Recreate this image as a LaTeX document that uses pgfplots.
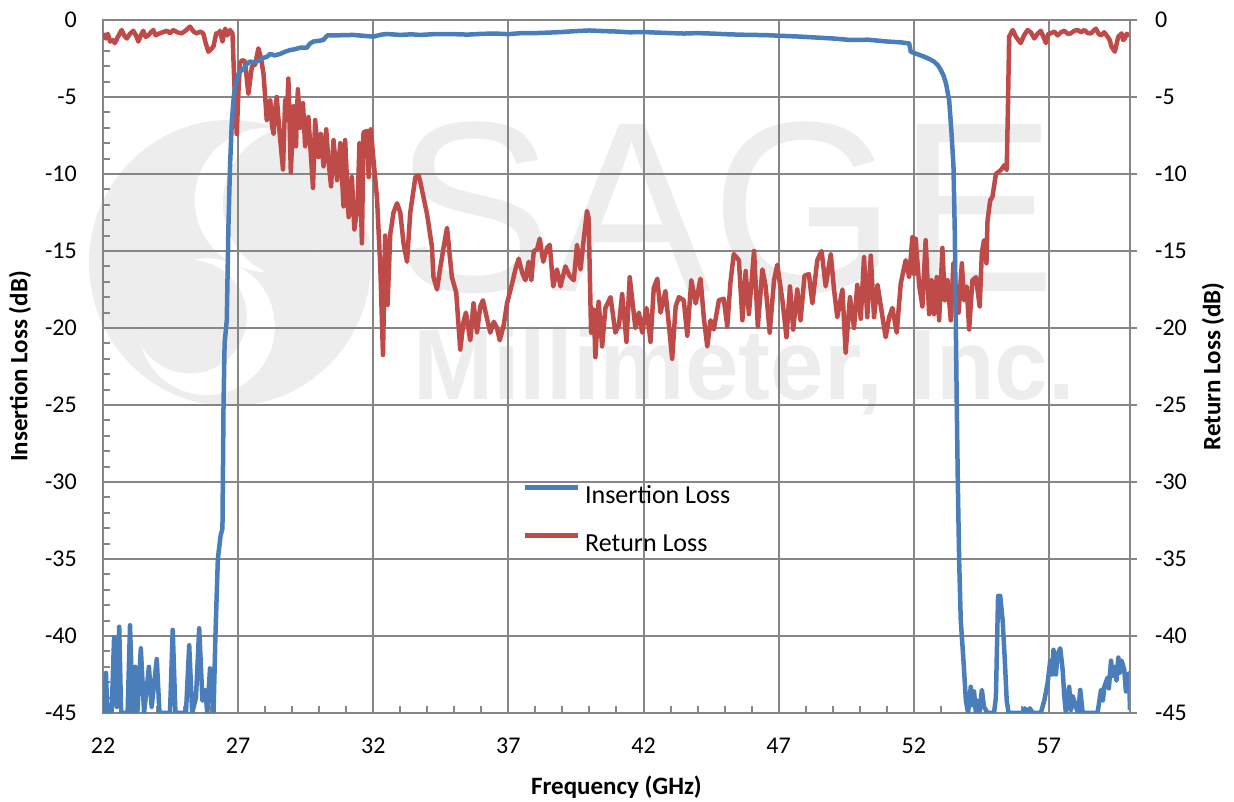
\documentclass[border=0pt]{standalone}
\usepackage{pgfplots}
\pgfplotsset{compat=1.18}
\usepackage{fontspec}
\setmainfont{Carlito}
\newfontfamily\wmfont{Liberation Sans}
\definecolor{ilblue}{HTML}{4A7EBB}
\definecolor{rlred}{HTML}{BE4B48}
\definecolor{gridgray}{HTML}{868686}
\definecolor{wmgray}{HTML}{EDEDED}

\begin{document}
\begin{tikzpicture}[x=1pt,y=1pt]
% page is 1234 x 802, plot area lower left at (0,0)
\path (-103,-89) rectangle (1131,713);
% faint company watermark behind the grid
\fill[wmgray] (127,450) ellipse (141 and 143);
\begin{scope}
  \clip (163.7,513) circle (72);
  \fill[white] (163.7,513) circle (72);
  \fill[wmgray] (197,510) circle (77);
\end{scope}
\begin{scope}
  \clip (103.7,386.3) circle (68.3);
  \fill[white] (103.7,386.3) circle (68.3);
  \fill[wmgray] (87,396.3) circle (56.7);
\end{scope}
\node[anchor=base, inner sep=0pt, text=wmgray, xscale=0.98,
  font=\wmfont\fontsize{243}{243}\selectfont] at (622,421) {SAGE};
\node[anchor=base, inner sep=0pt, text=wmgray, xscale=0.96,
  font=\wmfont\bfseries\fontsize{100}{100}\selectfont] at (641,313) {Millimeter, Inc.};

\begin{axis}[
    at={(0,0)}, anchor=south west
  , scale only axis, width=1027pt, height=693pt
  , xmin=22, xmax=60, ymin=-45, ymax=0
  , xtick={22,27,...,57}, ytick={-45,-40,...,0}
  , minor x tick num=4, minor y tick num=4
  , xtick pos=bottom, ytick pos=left
  , tick align=inside, major tick length=0pt, minor tick length=7pt
  , minor tick style={gridgray, line width=2pt}
  , axis line style={gridgray, line width=2pt}
  , grid=major, major grid style={gridgray, line width=2pt}
  , /pgf/number format/assume math mode=true
  , ticklabel style={font=\fontsize{24}{24}\selectfont, inner sep=0pt}
  , yticklabel style={xshift=-26pt}
  , xticklabel style={yshift=-25pt}
  , xlabel={Frequency (GHz)}, ylabel={Insertion Loss (dB)}
  , label style={font=\bfseries\fontsize{25}{25}\selectfont}
  , xlabel style={at={(axis description cs:0.5,0)}, anchor=center, yshift=-74pt}
  , ylabel style={at={(axis description cs:0,0.5)}, anchor=center, yshift=83pt}
  , legend style={at={(axis cs:37.52,-30.2)}, anchor=north west, draw=none, fill=none,
      inner sep=0pt, column sep=5pt, row sep=28pt,
      font=\fontsize{26}{26}\selectfont, nodes={inner sep=0pt}}
  , legend cell align=left
  , legend image code/.code={\draw[#1] (0pt,8pt) -- (53pt,8pt);}
  , reverse legend
  , every axis plot/.append style={line width=4.5pt, line join=round}
  ]
\addplot[rlred] coordinates {
(22.01,-0.87) (22.10,-1.2) (22.18,-0.9) (22.26,-1.4) (22.35,-1.3) (22.44,-1.5)
(22.55,-1.1) (22.69,-0.65) (22.78,-1.0) (22.88,-1.2) (23.00,-0.9) (23.12,-0.7)
(23.22,-1.0) (23.31,-1.4) (23.40,-1.0) (23.49,-0.7) (23.58,-1.1) (23.68,-1.0)
(23.77,-0.8) (23.86,-0.65) (23.95,-1.0) (24.05,-0.9) (24.20,-0.8) (24.36,-0.7)
(24.48,-0.85) (24.60,-0.65) (24.75,-0.8) (24.91,-0.87) (25.05,-0.7) (25.22,-0.43)
(25.35,-0.75) (25.47,-0.87) (25.60,-0.75) (25.71,-0.87) (25.80,-1.5) (25.90,-2.06)
(26.00,-1.9) (26.09,-1.7) (26.15,-1.2) (26.19,-0.87) (26.26,-0.9) (26.33,-0.7)
(26.42,-1.4) (26.52,-0.56) (26.60,-1.0) (26.70,-0.65) (26.79,-0.87) (26.86,-4.1)
(26.95,-7.4) (27.01,-4.7) (27.07,-2.8) (27.15,-2.6) (27.26,-2.7) (27.32,-3.8)
(27.38,-4.8) (27.51,-3.0) (27.63,-2.9) (27.75,-1.84) (27.85,-2.5) (27.94,-3.5)
(28.00,-5.0) (28.06,-6.5) (28.12,-5.5) (28.19,-5.2) (28.25,-6.8) (28.31,-7.4)
(28.37,-5.8) (28.43,-5.0) (28.50,-6.6) (28.56,-7.8) (28.66,-9.7) (28.74,-5.2)
(28.80,-6.5) (28.86,-3.8) (28.95,-9.9) (29.05,-5.6) (29.14,-8.2) (29.21,-4.5)
(29.30,-7.0) (29.40,-5.4) (29.48,-8.2) (29.60,-6.3) (29.69,-8.7) (29.77,-10.9)
(29.85,-6.5) (29.97,-8.9) (30.06,-7.4) (30.16,-9.5) (30.26,-7.1) (30.34,-9.1)
(30.44,-10.8) (30.53,-7.8) (30.66,-10.4) (30.78,-8.0) (30.90,-12.1) (30.96,-7.8)
(31.09,-12.8) (31.21,-10.2) (31.30,-13.6) (31.42,-12.1) (31.49,-8.0) (31.58,-14.5)
(31.64,-7.3) (31.77,-7.2) (31.83,-10.2) (31.91,-7.1) (32.01,-9.1) (32.14,-11.6)
(32.26,-16.0) (32.36,-21.75) (32.44,-14.0) (32.53,-18.5) (32.63,-13.9) (32.75,-12.5)
(32.88,-11.9) (33.00,-12.5) (33.12,-14.5) (33.25,-15.7) (33.37,-12.5) (33.56,-10.2)
(33.68,-10.1) (33.74,-10.5) (33.99,-12.6) (34.17,-14.7) (34.23,-16.7) (34.36,-17.5)
(34.48,-16.1) (34.60,-14.8) (34.73,-13.5) (34.91,-16.7) (35.07,-17.7) (35.22,-21.4)
(35.34,-19.6) (35.43,-19.0) (35.59,-20.8) (35.71,-18.4) (35.84,-20.3) (35.96,-18.6)
(36.06,-18.2) (36.21,-19.4) (36.33,-20.3) (36.46,-19.6) (36.58,-20.0) (36.68,-20.8)
(36.83,-19.8) (36.95,-18.4) (37.14,-17.1) (37.26,-16.2) (37.38,-15.5) (37.51,-16.4)
(37.63,-16.9) (37.75,-15.7) (37.85,-16.9) (37.94,-15.0) (38.06,-14.9) (38.16,-14.2)
(38.29,-15.7) (38.43,-14.8) (38.53,-14.6) (38.66,-17.3) (38.80,-16.2) (38.93,-17.3)
(39.11,-16.0) (39.26,-16.6) (39.42,-16.9) (39.54,-14.6) (39.67,-16.2) (39.79,-14.2)
(39.91,-12.4) (39.97,-12.9) (40.06,-20.3) (40.16,-18.8) (40.22,-21.9) (40.34,-18.3)
(40.47,-21.2) (40.59,-18.7) (40.78,-18.0) (40.96,-20.3) (41.09,-19.8) (41.21,-17.8)
(41.37,-20.9) (41.49,-16.7) (41.70,-20.0) (41.83,-19.0) (41.95,-20.3) (42.11,-18.7)
(42.26,-20.9) (42.38,-17.4) (42.51,-16.8) (42.63,-19.0) (42.81,-17.6) (42.94,-19.8)
(43.06,-22.0) (43.19,-18.6) (43.31,-18.0) (43.49,-18.2) (43.62,-20.5) (43.77,-16.9)
(43.93,-18.4) (44.11,-16.8) (44.23,-19.3) (44.36,-21.2) (44.48,-19.5) (44.60,-20.1)
(44.79,-18.2) (44.97,-18.1) (45.10,-19.9) (45.22,-17.0) (45.34,-15.2) (45.53,-15.6)
(45.66,-19.5) (45.78,-16.3) (45.90,-19.1) (46.09,-15.0) (46.23,-19.9) (46.40,-16.2)
(46.52,-17.3) (46.67,-20.3) (46.83,-16.9) (46.95,-15.9) (47.14,-18.2) (47.29,-20.6)
(47.42,-17.3) (47.54,-20.1) (47.69,-17.5) (47.81,-19.5) (47.96,-16.6) (48.12,-16.5)
(48.25,-18.4) (48.43,-15.6) (48.59,-15.0) (48.74,-17.3) (48.93,-15.2) (49.05,-17.5)
(49.17,-19.3) (49.36,-17.5) (49.48,-21.6) (49.64,-18.0) (49.79,-20.0) (49.91,-17.2)
(50.04,-19.4) (50.16,-15.4) (50.28,-19.3) (50.41,-15.3) (50.53,-19.3) (50.66,-17.2)
(50.80,-18.8) (50.96,-20.6) (51.09,-19.3) (51.21,-18.7) (51.37,-20.3) (51.52,-17.1)
(51.70,-15.6) (51.83,-16.7) (51.95,-14.1) (52.01,-16.5) (52.07,-14.2) (52.20,-17.2)
(52.32,-18.6) (52.44,-14.3) (52.57,-19.1) (52.66,-16.9) (52.75,-19.1) (52.85,-16.7)
(52.94,-19.5) (53.06,-14.8) (53.15,-18.2) (53.25,-16.9) (53.37,-19.5) (53.47,-15.8)
(53.56,-17.5) (53.66,-19.0) (53.78,-15.8) (53.86,-18.2) (53.96,-17.3) (54.05,-20.1)
(54.17,-16.9) (54.30,-16.7) (54.44,-18.6) (54.52,-15.1) (54.60,-14.3) (54.69,-15.8)
(54.73,-13.0) (54.83,-11.7) (54.91,-11.5) (55.04,-10.0) (55.22,-9.75) (55.37,-9.4)
(55.44,-9.75) (55.49,-5.2) (55.53,-1.08) (55.66,-0.65) (55.78,-1.08) (55.87,-1.3)
(55.96,-1.5) (56.08,-1.0) (56.21,-0.65) (56.33,-0.8) (56.46,-1.2) (56.58,-0.9)
(56.70,-0.7) (56.80,-1.1) (56.89,-1.5) (56.98,-0.9) (57.07,-0.87) (57.20,-0.75)
(57.32,-1.0) (57.45,-0.8) (57.57,-0.7) (57.70,-0.9) (57.81,-0.87) (57.94,-0.7)
(58.06,-0.65) (58.20,-0.8) (58.31,-0.65) (58.44,-0.85) (58.56,-0.87) (58.65,-0.7)
(58.74,-0.56) (58.84,-0.9) (58.93,-1.0) (59.05,-0.8) (59.17,-1.08) (59.25,-1.3)
(59.32,-1.74) (59.44,-2.06) (59.50,-1.6) (59.57,-1.08) (59.69,-0.87) (59.75,-1.3)
(59.81,-1.2) (59.88,-0.9) (59.94,-0.97) (60.00,-1.0)
};
\addlegendentry{Return Loss}
\addplot[ilblue] coordinates {
(22.00,-45) (22.05,-45) (22.11,-42.4) (22.16,-45) (22.32,-45) (22.41,-40.1)
(22.51,-44.6) (22.60,-39.4) (22.67,-45) (22.91,-45) (23.00,-39.3) (23.10,-45)
(23.19,-42.0) (23.27,-45) (23.40,-40.8) (23.52,-45) (23.70,-42.0) (23.80,-44.6)
(23.99,-41.5) (24.09,-45) (24.48,-45) (24.58,-39.6) (24.68,-45) (25.07,-45)
(25.19,-40.6) (25.30,-45) (25.44,-44.0) (25.56,-39.5) (25.68,-44.2) (25.78,-43.5)
(25.86,-45) (25.96,-42.1) (26.09,-45) (26.16,-40) (26.25,-35) (26.35,-33.5)
(26.42,-33.0) (26.46,-25.0) (26.50,-21.0) (26.58,-19.5) (26.64,-13.5) (26.70,-9.5)
(26.77,-6.5) (26.84,-5.0) (26.89,-4.3) (27.01,-3.5) (27.10,-3.3) (27.20,-3.2)
(27.30,-2.9) (27.44,-2.7) (27.60,-2.75) (27.81,-2.6) (27.95,-2.45) (28.06,-2.4)
(28.19,-2.2) (28.35,-2.3) (28.56,-2.2) (28.75,-2.05) (28.93,-1.95) (29.10,-1.9)
(29.30,-1.8) (29.54,-1.8) (29.65,-1.55) (29.78,-1.4) (30.00,-1.35) (30.15,-1.3)
(30.30,-1.0) (30.60,-1.0) (31.00,-0.98) (31.26,-0.97) (31.60,-1.02) (32.00,-1.08)
(32.30,-0.95) (32.50,-0.91) (33.00,-0.97) (33.40,-0.93) (33.74,-0.97) (34.36,-0.91)
(35.0,-0.92) (35.5,-0.95) (36.0,-0.90) (36.5,-0.88) (37.0,-0.92) (37.5,-0.85)
(38.0,-0.85) (38.5,-0.82) (39.0,-0.78) (39.5,-0.72) (40.0,-0.68) (40.5,-0.72)
(41.0,-0.75) (41.5,-0.80) (42.0,-0.78) (42.5,-0.82) (43.0,-0.85) (43.5,-0.88)
(44.0,-0.85) (44.5,-0.88) (45.0,-0.92) (45.5,-0.95) (46.0,-0.97) (46.5,-0.98)
(47.0,-1.02) (47.81,-1.08) (48.5,-1.15) (49.0,-1.2) (49.67,-1.3) (50.3,-1.28)
(51.03,-1.4) (51.5,-1.45) (51.83,-1.52) (51.89,-2.06) (52.10,-2.2) (52.38,-2.38)
(52.60,-2.55) (52.75,-2.7) (52.90,-2.95) (53.00,-3.25) (53.10,-3.6) (53.19,-4.1)
(53.31,-5.2) (53.40,-7.4) (53.47,-9.5) (53.52,-13.9) (53.56,-20.3) (53.59,-24.7)
(53.63,-30) (53.68,-35.1) (53.74,-39) (53.84,-41.6) (53.93,-44.2) (54.01,-45)
(54.11,-43.3) (54.18,-44.5) (54.23,-43.6) (54.30,-45) (54.36,-44.2) (54.43,-45)
(54.52,-43.5) (54.60,-44.6) (54.73,-45) (54.97,-45) (55.04,-44) (55.12,-37.4)
(55.20,-37.4) (55.29,-39) (55.37,-41.6) (55.44,-44.2) (55.51,-45) (56.05,-45)
(56.11,-44.7) (56.2,-45) (56.3,-44.7) (56.4,-45) (56.7,-45) (56.83,-44.2)
(56.95,-43.1) (57.05,-41.6) (57.12,-42.5) (57.17,-40.9) (57.26,-42.5) (57.32,-41.2)
(57.42,-40.8) (57.51,-42.2) (57.57,-43.9) (57.63,-45) (57.75,-43.3) (57.82,-44.8)
(57.88,-43.9) (58.0,-44.6) (58.08,-45) (58.16,-43.5) (58.25,-45) (58.80,-45)
(58.93,-43.5) (59.0,-44.2) (59.05,-43.3) (59.17,-42.7) (59.22,-43.4) (59.30,-41.6)
(59.36,-42.6) (59.42,-42.0) (59.50,-42.9) (59.57,-41.4) (59.63,-42.4) (59.69,-41.6)
(59.79,-42.2) (59.85,-43.6) (59.89,-43) (59.97,-42.4) (60.0,-44.8)
};
\addlegendentry{Insertion Loss}
\end{axis}

\begin{axis}[
    at={(0,0)}, anchor=south west
  , scale only axis, width=1027pt, height=693pt
  , xmin=22, xmax=60, ymin=-45, ymax=0
  , axis x line=none, axis y line*=right
  , ytick={-45,-40,...,0}, minor y tick num=0
  , tick align=outside, major tick length=7pt
  , y axis line style={gridgray, line width=2pt}
  , ytick style={gridgray, line width=2pt}
  , /pgf/number format/assume math mode=true
  , yticklabel style={font=\fontsize{24}{24}\selectfont, inner sep=0pt, xshift=18pt, anchor=west}
  , ylabel={Return Loss (dB)}
  , ylabel style={font=\bfseries\fontsize{25}{25}\selectfont,
      at={(axis description cs:1,0.5)}, anchor=center, yshift=-83pt}
  ]
\end{axis}
\end{tikzpicture}
\end{document}
